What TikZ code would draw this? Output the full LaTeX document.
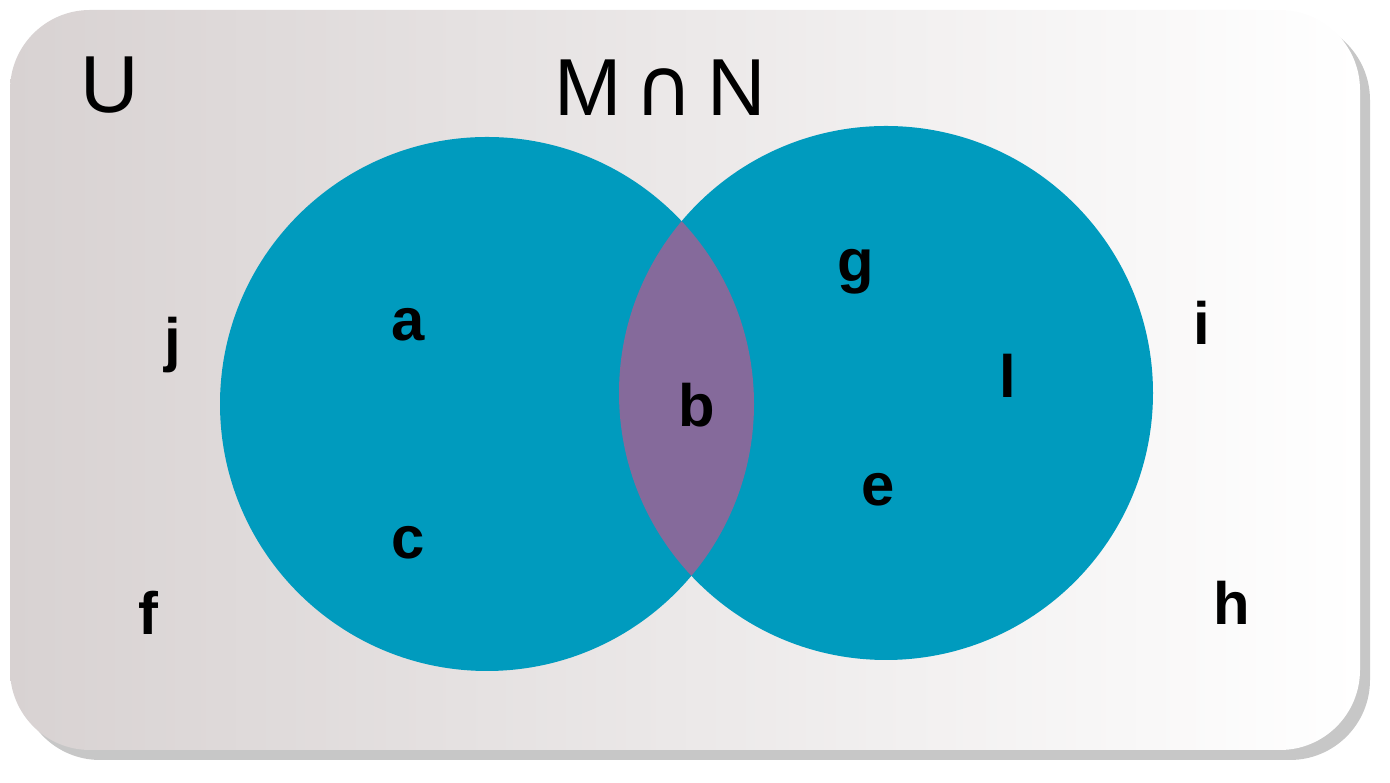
\documentclass[tikz,border=0pt]{standalone}
\usepackage{fontspec}
\setmainfont{Liberation Sans}
\newfontfamily\symfont{DejaVu Sans}
\definecolor{setteal}{HTML}{009BBE}
\definecolor{setpurple}{HTML}{856A9B}
\definecolor{boxgrey}{HTML}{D8D2D2}
\tikzset{
  elem/.style={font=\fontsize{17}{20}\selectfont\bfseries},
  title/.style={font=\fontsize{23}{27}\selectfont}
}
\begin{document}
\begin{tikzpicture}[x=0.01cm,y=-0.01cm]
\useasboundingbox (0,0) rectangle (1390,783);

% universe box with shadow
\fill[black!22, rounded corners=0.8cm] (20,20) rectangle (1370,760);
\shade[left color=boxgrey, right color=white, rounded corners=0.8cm] (10,10) rectangle (1360,750);

% the two sets
\fill[setteal] (487,404) circle (267);
\fill[setteal] (886,393) circle (267);
\begin{scope}
  \clip (487,404) circle (267);
  \fill[setpurple] (886,393) circle (267);
\end{scope}

% labels
\node[title] (U) at (110,85) {U};
\node[title] (MN) at (660,88) {M\,{\symfont ∩}\,N};

\node[elem] (j) at (173,345) {j};
\node[elem] (a) at (408,325) {a};
\node[elem] (c) at (408,543) {c};
\node[elem] (f) at (148,613) {f};
\node[elem] (b) at (697,405) {b};
\node[elem] (g) at (856,272) {g};
\node[elem] (l) at (1008,376) {l};
\node[elem] (e) at (878,490) {e};
\node[elem] (i) at (1202,323) {i};
\node[elem] (h) at (1232,603) {h};
\end{tikzpicture}
\end{document}
